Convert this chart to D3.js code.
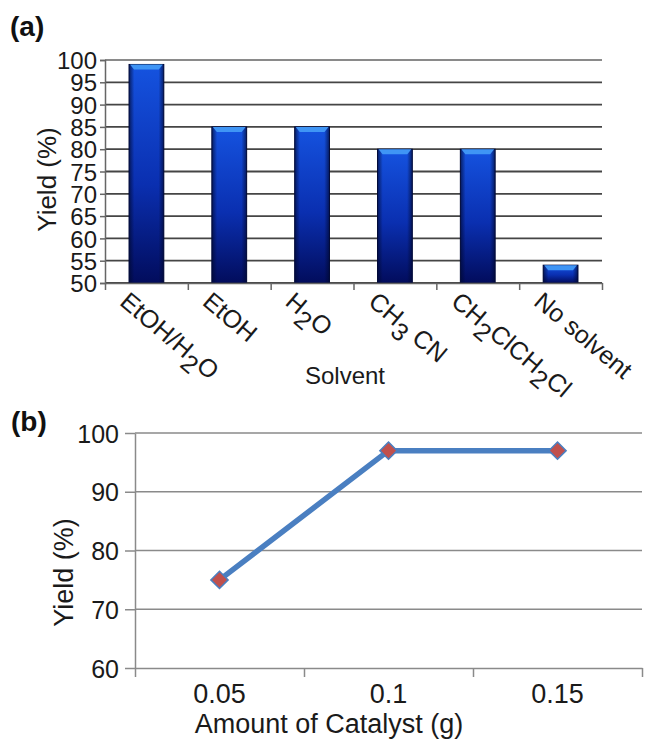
<!DOCTYPE html>
<html>
<head>
<meta charset="utf-8">
<script src="https://cdn.jsdelivr.net/npm/d3@7"></script>
<style>
  body { margin: 0; background: #fff; }
  svg { display: block; font-family: "Liberation Sans", Arial, sans-serif; }
</style>
</head>
<body>
<div id="chart"></div>
<script>
// panel (a) data
var solvents = ["EtOH/H2O", "EtOH", "H2O", "CH3 CN", "CH2ClCH2Cl", "No solvent"];
var solventYield = [99, 85, 85, 80, 80, 54];
var yTicksA = [50, 55, 60, 65, 70, 75, 80, 85, 90, 95, 100];

// panel (b) data
var catalystAmount = ["0.05", "0.1", "0.15"];
var catalystYield = [75, 97, 97];
var yTicksB = [60, 70, 80, 90, 100];

var svgWidth = 653;
var svgHeight = 741;

var svg = d3.select("#chart")
    .append("svg")
    .attr("width", svgWidth)
    .attr("height", svgHeight);

var defs = svg.append("defs");

// bar shading: bright blue on top, navy at the bottom
var grad = defs.append("linearGradient")
    .attr("id", "barGrad")
    .attr("x1", 0).attr("y1", 0).attr("x2", 0).attr("y2", 1);
grad.append("stop").attr("offset", "0%").attr("stop-color", "#1553e0");
grad.append("stop").attr("offset", "55%").attr("stop-color", "#0a2fb0");
grad.append("stop").attr("offset", "100%").attr("stop-color", "#020c5c");

var gradSide = defs.append("linearGradient")
    .attr("id", "barSide")
    .attr("x1", 0).attr("y1", 0).attr("x2", 1).attr("y2", 0);
gradSide.append("stop").attr("offset", "0%").attr("stop-color", "#000830").attr("stop-opacity", 0.7);
gradSide.append("stop").attr("offset", "15%").attr("stop-color", "#000830").attr("stop-opacity", 0);
gradSide.append("stop").attr("offset", "85%").attr("stop-color", "#000830").attr("stop-opacity", 0);
gradSide.append("stop").attr("offset", "100%").attr("stop-color", "#000830").attr("stop-opacity", 0.7);

// ---------------- panel (a) ----------------
var plotA = { left: 105, right: 602, top: 60, bottom: 283 };

var xA = d3.scaleBand()
    .domain(solvents)
    .range([plotA.left, plotA.right])
    .paddingInner(0.58)
    .paddingOuter(0.29);

var yA = d3.scaleLinear()
    .domain([50, 100])
    .range([plotA.bottom, plotA.top]);

var gA = svg.append("g");

// gridlines
gA.append("g")
    .selectAll("line")
    .data(yTicksA)
    .enter()
    .append("line")
    .attr("x1", plotA.left)
    .attr("x2", plotA.right)
    .attr("y1", d => yA(d))
    .attr("y2", d => yA(d))
    .attr("stroke", d => d === 100 ? "#8a8a8a" : "#454545")
    .attr("stroke-width", 1.8);

// bars
var bars = gA.append("g")
    .selectAll("g")
    .data(solvents)
    .enter()
    .append("g");

bars.append("rect")
    .attr("x", d => xA(d))
    .attr("y", (d, i) => yA(solventYield[i]))
    .attr("width", xA.bandwidth())
    .attr("height", (d, i) => yA(50) - yA(solventYield[i]))
    .attr("fill", "url(#barGrad)")
    .attr("stroke", "#020a3a")
    .attr("stroke-width", 1);

bars.append("rect")
    .attr("x", d => xA(d))
    .attr("y", (d, i) => yA(solventYield[i]))
    .attr("width", xA.bandwidth())
    .attr("height", (d, i) => yA(50) - yA(solventYield[i]))
    .attr("fill", "url(#barSide)");

// light cap on top of each bar
bars.append("path")
    .attr("d", function(d, i) {
        var x0 = xA(d), w = xA.bandwidth(), y0 = yA(solventYield[i]);
        return "M" + (x0 + 1) + "," + y0 + "L" + (x0 + w - 1) + "," + y0 +
            "L" + (x0 + w - 5) + "," + (y0 + 5) + "L" + (x0 + 5) + "," + (y0 + 5) + "Z";
    })
    .attr("fill", "#3f95f5");

// y axis
var yAxisA = d3.axisLeft(yA)
    .tickValues(yTicksA)
    .tickSize(5)
    .tickPadding(3);

var yAxisGA = gA.append("g")
    .attr("transform", `translate(${plotA.left}, 0)`)
    .call(yAxisA);
yAxisGA.select(".domain").attr("stroke", "#666").attr("stroke-width", 1.5);
yAxisGA.selectAll(".tick line").attr("stroke", "#666").attr("stroke-width", 1.5);
yAxisGA.selectAll(".tick text")
    .attr("font-size", 24)
    .attr("font-family", "Liberation Sans, Arial, sans-serif")
    .attr("fill", "#1a1a1a")
    .attr("dy", "0.36em");

// x axis with ticks at category boundaries
var xEdgeA = d3.scaleLinear()
    .domain([0, solvents.length])
    .range([plotA.left, plotA.right]);

var xAxisGA = gA.append("g")
    .attr("transform", `translate(0, ${plotA.bottom})`)
    .call(d3.axisBottom(xEdgeA)
        .tickValues(d3.range(0, solvents.length + 1))
        .tickFormat("")
        .tickSize(7)
        .tickSizeOuter(0));
xAxisGA.select(".domain").attr("stroke", "#666").attr("stroke-width", 1.5);
xAxisGA.selectAll(".tick line").attr("stroke", "#666").attr("stroke-width", 1.5);

// rotated category labels, digits as subscripts
var catLabels = gA.append("g")
    .selectAll("text")
    .data(solvents)
    .enter()
    .append("text")
    .attr("transform", d => `translate(${xA(d) + xA.bandwidth() / 2 - 28}, ${plotA.bottom + 21}) rotate(40)`)
    .attr("font-size", 25)
    .attr("fill", "#1a1a1a");

catLabels.each(function(d) {
    var t = d3.select(this);
    var parts = d.match(/\d+|\D+/g);
    var down = false;
    parts.forEach(function(p) {
        var isNum = /^\d+$/.test(p);
        var span = t.append("tspan").text(p);
        if (isNum && !down) { span.attr("dy", "0.35em"); down = true; }
        else if (!isNum && down) { span.attr("dy", "-0.35em"); down = false; }
    });
});

// titles
gA.append("text")
    .attr("transform", `translate(56, ${(plotA.top + plotA.bottom) / 2 + 8}) rotate(-90)`)
    .attr("text-anchor", "middle")
    .attr("font-size", 26)
    .attr("fill", "#1a1a1a")
    .text("Yield (%)");

gA.append("text")
    .attr("x", 345)
    .attr("y", 384)
    .attr("text-anchor", "middle")
    .attr("font-size", 24)
    .attr("fill", "#1a1a1a")
    .text("Solvent");

svg.append("text")
    .attr("x", 10)
    .attr("y", 36)
    .attr("font-size", 28)
    .attr("font-weight", "bold")
    .attr("fill", "#111")
    .text("(a)");

// ---------------- panel (b) ----------------
var plotB = { left: 135, right: 642, top: 433, bottom: 668 };

var xB = d3.scalePoint()
    .domain(catalystAmount)
    .range([plotB.left, plotB.right])
    .padding(0.5);

var yB = d3.scaleLinear()
    .domain([60, 100])
    .range([plotB.bottom, plotB.top]);

var gB = svg.append("g");

gB.append("g")
    .selectAll("line")
    .data(yTicksB.filter(d => d > 60))
    .enter()
    .append("line")
    .attr("x1", plotB.left)
    .attr("x2", plotB.right)
    .attr("y1", d => yB(d))
    .attr("y2", d => yB(d))
    .attr("stroke", "#8a8a8a")
    .attr("stroke-width", 1.6);

var yAxisGB = gB.append("g")
    .attr("transform", `translate(${plotB.left}, 0)`)
    .call(d3.axisLeft(yB).tickValues(yTicksB).tickSize(10).tickSizeOuter(0).tickPadding(6));
yAxisGB.select(".domain").attr("stroke", "#8a8a8a").attr("stroke-width", 1.5);
yAxisGB.selectAll(".tick line").attr("stroke", "#8a8a8a").attr("stroke-width", 1.5);
yAxisGB.selectAll(".tick text")
    .attr("font-size", 25)
    .attr("font-family", "Liberation Sans, Arial, sans-serif")
    .attr("fill", "#1a1a1a")
    .attr("dy", "0.36em");

var xEdgeB = d3.scaleLinear()
    .domain([0, catalystAmount.length])
    .range([plotB.left, plotB.right]);

var xAxisGB = gB.append("g")
    .attr("transform", `translate(0, ${plotB.bottom})`)
    .call(d3.axisBottom(xEdgeB)
        .tickValues(d3.range(0, catalystAmount.length + 1))
        .tickFormat("")
        .tickSize(9)
        .tickSizeOuter(0));
xAxisGB.select(".domain").attr("stroke", "#8a8a8a").attr("stroke-width", 1.5);
xAxisGB.selectAll(".tick line").attr("stroke", "#8a8a8a").attr("stroke-width", 1.5);

gB.append("g")
    .selectAll("text")
    .data(catalystAmount)
    .enter()
    .append("text")
    .attr("x", d => xB(d))
    .attr("y", plotB.bottom + 35)
    .attr("text-anchor", "middle")
    .attr("font-size", 27)
    .attr("fill", "#1a1a1a")
    .text(d => d);

// line + diamond markers
var line = d3.line()
    .x((d, i) => xB(catalystAmount[i]))
    .y(d => yB(d));

gB.append("path")
    .datum(catalystYield)
    .attr("d", line)
    .attr("fill", "none")
    .attr("stroke", "#4a7fc1")
    .attr("stroke-width", 5.5)
    .attr("stroke-linejoin", "round");

gB.append("g")
    .selectAll("path")
    .data(catalystYield)
    .enter()
    .append("path")
    .attr("transform", (d, i) => `translate(${xB(catalystAmount[i])}, ${yB(d)})`)
    .attr("d", d3.symbol().type(d3.symbolDiamond2).size(190))
    .attr("fill", "#c0504d")
    .attr("stroke", "#4a7fc1")
    .attr("stroke-width", 1.5);

gB.append("text")
    .attr("transform", `translate(73, ${(plotB.top + plotB.bottom) / 2 + 22}) rotate(-90)`)
    .attr("text-anchor", "middle")
    .attr("font-size", 27)
    .attr("fill", "#1a1a1a")
    .text("Yield (%)");

gB.append("text")
    .attr("x", 329)
    .attr("y", 733)
    .attr("text-anchor", "middle")
    .attr("font-size", 27)
    .attr("fill", "#1a1a1a")
    .text("Amount of Catalyst (g)");

svg.append("text")
    .attr("x", 11)
    .attr("y", 431)
    .attr("font-size", 28)
    .attr("font-weight", "bold")
    .attr("fill", "#111")
    .text("(b)");
</script>
</body>
</html>
